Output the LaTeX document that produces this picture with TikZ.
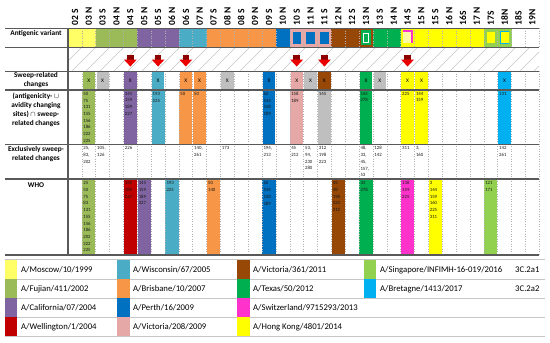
\documentclass[tikz,border=0pt]{standalone}
\usepackage{fontspec}
\setmainfont{Carlito}
\definecolor{cMos}{HTML}{FFFF66}
\definecolor{cFuj}{HTML}{9BBB59}
\definecolor{cCal}{HTML}{8064A2}
\definecolor{cWel}{HTML}{C00000}
\definecolor{cWis}{HTML}{4BACC6}
\definecolor{cBri}{HTML}{F79646}
\definecolor{cPer}{HTML}{0070C0}
\definecolor{cVic}{HTML}{E6A8A6}
\definecolor{cVxi}{HTML}{974706}
\definecolor{cTex}{HTML}{00B050}
\definecolor{cSwi}{HTML}{FF33CC}
\definecolor{cHK}{HTML}{FFFF00}
\definecolor{cSin}{HTML}{92D050}
\definecolor{cBre}{HTML}{00B0F0}
\definecolor{cGry}{HTML}{BFBFBF}
\definecolor{cLine}{HTML}{595959}
\def\W{13.86}
\begin{document}
\begin{tikzpicture}[x=1pt,y=-1pt,
  hdr/.style={font=\fontsize{9.5}{10}\selectfont\bfseries, rotate=90, anchor=west, inner sep=0pt},
  rowlab/.style={font=\fontsize{7.3}{9}\selectfont\bfseries, align=center, inner sep=0pt},
  num/.style={font=\fontsize{4.8}{6.7}\selectfont, align=left, anchor=north west, inner sep=0pt, text=black!90},
  xmark/.style={font=\fontsize{5.5}{6}\selectfont, inner sep=0pt},
  leg/.style={font=\fontsize{8.7}{10}\selectfont, anchor=west, inner sep=0pt},
  thinline/.style={draw=cLine, line width=0.8pt},
  thickline/.style={draw=cLine, line width=1.2pt},
  dotl/.style={draw=gray!60, dotted, line width=0.5pt},
  legline/.style={draw=gray!45, line width=0.8pt}
]
\useasboundingbox (0,0) rectangle (550,343);

% ---- column headers
\foreach \lab [count=\i from 0] in {02 S,03 N,03 S,04 N,04 S,05 N,05 S,06 N,06 S,07 N,07 S,08 N,08 S,09 N,09 S,10 N,10 S,11 N,11 S,12 N,12 S,13 N,13 S,14 N,14 S,15 N,15 S,16 N,16S,17 N,17S,18N,18S,19N}
  \node[hdr] (h\i) at ({68+\W*(\i+0.5)},25.5) {\lab};

% ---- antigenic variant row
\foreach \a/\b/\c in {0/2/cMos,2/5/cFuj,5/8/cCal,8/10/cWis,10/15/cBri,15/16/cPer,16/19/cVic,19/22/cVxi,22/24/cTex,24/30/cHK,30/32/cSin}
  \fill[\c] ({68+\W*\a},28) rectangle ({68+\W*\b},47);
\foreach \i in {16,17,18}
  \fill[cPer] ({68+\W*\i+2.8},31.5) rectangle ({68+\W*(\i+1)-2.8},43.5);
\fill[cTex] ({68+\W*21+2},30) rectangle ({68+\W*22-2},45);
\draw[white,line width=1pt] ({68+\W*21+4.5},33) rectangle ({68+\W*22-4.5},42.5);
\fill[yellow!35] ({68+\W*24+2.5},31) rectangle ({68+\W*25-2.5},43);
\draw[cSwi,line width=1.6pt] ({68+\W*24+2.5},31) -- ({68+\W*25-2.5},31) -- ({68+\W*25-2.5},43);
\fill[cHK] ({68+\W*30+3},32) rectangle ({68+\W*31-3},43);
\fill[cHK] ({68+\W*31+3},32) rectangle ({68+\W*32-3},43);
\draw[cBre,line width=1.6pt] ({68+\W*32-3},31.5) -- ({68+\W*31+3},31.5) -- ({68+\W*31+3},43.5) -- ({68+\W*32-3},43.5);

% ---- hatched arrow row
\begin{scope}
  \clip (68,47) rectangle ({68+\W*34},71);
  \foreach \k in {0,...,37}
    \draw[gray!45, line width=0.4pt] ({68+14*\k-24},71) -- ({68+14*\k},47);
\end{scope}
\foreach \i in {4,6,8,16,18,24} {
  \fill[red!55!black] ({68+\W*(\i+0.5)-3.2},55) rectangle ({68+\W*(\i+0.5)+3.2},60);
  \fill[red!92!black] ({68+\W*(\i+0.5)-6.5},59.5) -- ({68+\W*(\i+0.5)+6.5},59.5) -- ({68+\W*(\i+0.5)},66.5) -- cycle;
}

% ---- sweep-related changes row
\foreach \i/\c in {1/cFuj,2/cGry,4/cCal,6/cWis,8/cBri,9/cBri,11/cGry,14/cPer,16/cVic,17/cGry,18/cVxi,21/cTex,22/cGry,24/cHK,25/cHK,31/cBre} {
  \fill[\c] ({68+\W*\i+0.8},71.5) rectangle ({68+\W*(\i+1)-0.8},89.5);
  \node[xmark] (x\i) at ({68+\W*(\i+0.5)},80.5) {X};
}

% ---- (antigenicity U avidity) n sweep row
\foreach \i/\c in {1/cFuj,4/cCal,6/cWis,8/cBri,9/cBri,14/cPer,16/cVic,18/cGry,21/cTex,24/cHK,25/cHK,31/cBre}
  \fill[\c] ({68+\W*\i+0.5},90) rectangle ({68+\W*(\i+1)-0.5},144.5);

% ---- WHO row
\foreach \i/\c in {1/cFuj,4/cWel,5/cCal,7/cWis,10/cBri,14/cPer,19/cVxi,21/cTex,24/cSwi,26/cHK,30/cSin}
  \fill[\c] ({68+\W*\i+0.3},179) rectangle ({68+\W*(\i+1)-0.3},255);

% ---- dotted column lines
\foreach \i in {1,...,34} {
  \draw[dotl] ({68+\W*\i},28) -- ({68+\W*\i},47);
  \draw[dotl] ({68+\W*\i},71) -- ({68+\W*\i},255);
}

% ---- grid lines
\draw[thinline] (5,28) -- ({68+\W*34},28);
\draw[thinline] (5,47) -- ({68+\W*34},47);
\draw[thinline] (5,71) -- ({68+\W*34},71);
\draw[thickline] (5,90) -- ({68+\W*34},90);
\draw[thickline] (5,144.5) -- ({68+\W*34},144.5);
\draw[thickline] (5,179) -- ({68+\W*34},179);
\draw[thickline] (5,255) -- ({68+\W*34},255);
\draw[thickline] (68,28) -- (68,255);

% ---- numbers
\foreach \i/\t in {1/{50\\75\\131\\155\\156\\186\\222\\225},4/{145\\159\\189\\227},6/{193\\225},8/{50},9/{50},14/{62\\144\\158\\189},16/{158\\189},18/{145},21/{145\\278},24/{225},25/{144\\159},31/{131}}
  \node[num] (a\i) at ({68+\W*\i+1.3},92) {\t};
\foreach \i/\t in {1/{25,\\83,\\202},2/{105,\\126},4/{226},9/{140,\\261},11/{173},14/{194,\\213},16/{45\\212},17/{53,\\94,\\230\\280},18/{312\\198\\223},21/{48,\\33,\\45,\\157,\\53},22/{128\\142},24/{311},25/{3,\\160},31/{142\\261}}
  \node[num] (e\i) at ({68+\W*\i+1.3},146.5) {\t};
\foreach \i/\t in {1/{25\\50\\75\\83\\131\\155\\156\\186\\202\\222\\225},4/{145\\189\\227},5/{145\\159\\189\\227},7/{193\\225},10/{50\\140},14/{62\\144\\158\\189},19/{45\\48\\198\\223\\312},21/{33\\278},24/{138\\159\\225},26/{3\\144\\159\\160\\225\\311},30/{121\\171}}
  \node[num] (w\i) at ({68+\W*\i+1.3},181.5) {\t};

% ---- row labels
\node[rowlab] (lAV) at (36,34) {Antigenic variant};
\node[rowlab] (lSR) at (36,80.5) {Sweep-related\\changes};
\node[rowlab] (lAS) at (36,110) {(antigenicity- $\cup$\\avidity changing\\sites) $\cap$ sweep-\\related changes};
\node[rowlab] (lEX) at (36,154.5) {Exclusively sweep-\\related changes};
\node[rowlab] (lWHO) at (36,185) {WHO};

% ---- legend
\foreach \y in {259.5,279.5,298.5,317.5,336.5}
  \draw[legline] (5,\y) -- (545,\y);
\foreach \r/\c/\t [count=\n] in {0/cMos/{A/Moscow/10/1999},1/cFuj/{A/Fujian/411/2002},2/cCal/{A/California/07/2004},3/cWel/{A/Wellington/1/2004}} {
  \fill[\c] (5,{260+19*\r}) rectangle (17,{279+19*\r});
  \node[leg] (la\n) at (21,{270+19*\r}) {\t};
}
\foreach \r/\c/\t [count=\n] in {0/cWis/{A/Wisconsin/67/2005},1/cBri/{A/Brisbane/10/2007},2/cPer/{A/Perth/16/2009},3/cVic/{A/Victoria/208/2009}} {
  \fill[\c] (117,{260+19*\r}) rectangle (130,{279+19*\r});
  \node[leg] (lb\n) at (133,{270+19*\r}) {\t};
}
\foreach \r/\c/\t [count=\n] in {0/cVxi/{A/Victoria/361/2011},1/cTex/{A/Texas/50/2012},2/cSwi/{A/Switzerland/9715293/2013},3/cHK/{A/Hong Kong/4801/2014}} {
  \fill[\c] (237,{260+19*\r}) rectangle (250,{279+19*\r});
  \node[leg] (lc\n) at (253,{270+19*\r}) {\t};
}
\foreach \r/\c/\t/\s [count=\n] in {0/cSin/{A/Singapore/INFIMH-16-019/2016}/3C.2a1,1/cBre/{A/Bretagne/1413/2017}/3C.2a2} {
  \fill[\c] (364,{260+19*\r}) rectangle (376,{279+19*\r});
  \node[leg] (ld\n) at (380,{270+19*\r}) {\t};
  \node[leg] (le\n) at (515,{270+19*\r}) {\s};
}
\end{tikzpicture}
\end{document}
